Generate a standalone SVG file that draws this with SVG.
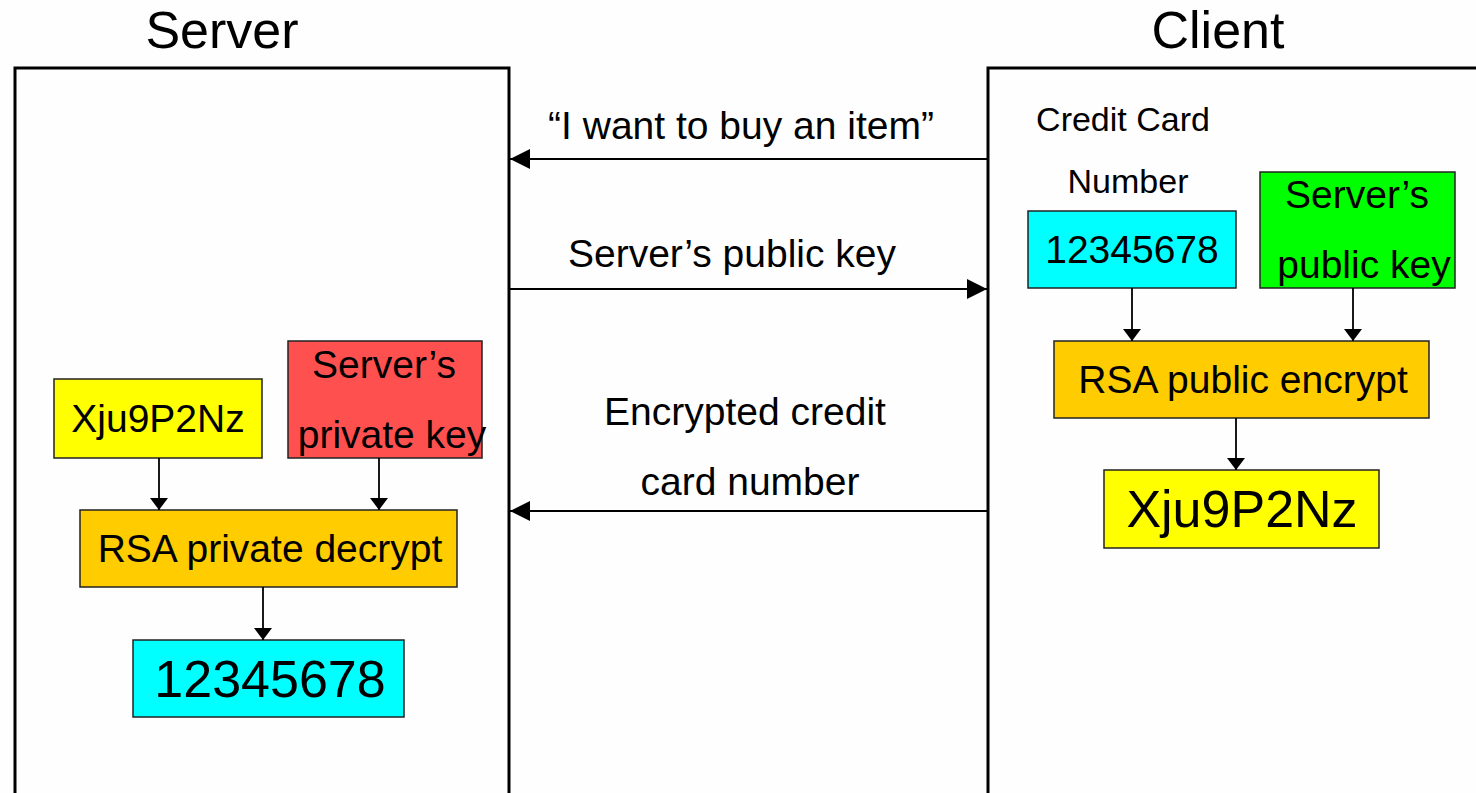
<svg xmlns="http://www.w3.org/2000/svg" width="1476" height="793" viewBox="0 0 1476 793">
  <style>
    text { font-family: "Liberation Sans", Arial, sans-serif; fill: #000; text-anchor: middle; }
    .title { font-size: 52px; }
    .lbl { font-size: 39px; }
    .big { font-size: 52px; }
    .small { font-size: 34px; }
    .frame { fill: none; stroke: #000; stroke-width: 3; }
    .node { stroke: #222; stroke-width: 1.5; }
    .msg { stroke: #000; stroke-width: 2; fill: none; }
    .flow { stroke: #000; stroke-width: 1.8; fill: none; }
  </style>
  <defs>
    <marker id="msgHead" viewBox="0 0 20 20" refX="20" refY="10" markerWidth="20" markerHeight="20" markerUnits="userSpaceOnUse" orient="auto">
      <path d="M0,0 L20,10 L0,20 Z" fill="#000"/>
    </marker>
    <marker id="flowHead" viewBox="0 0 12 18" refX="12" refY="9" markerWidth="12" markerHeight="18" markerUnits="userSpaceOnUse" orient="auto">
      <path d="M0,0 L12,9 L0,18 Z" fill="#000"/>
    </marker>
  </defs>

  <rect width="1476" height="793" fill="#fefefe"/>

  <!-- Titles -->
  <text class="title" x="222" y="48">Server</text>
  <text class="title" x="1218" y="48">Client</text>

  <!-- Party frames -->
  <g id="server">
    <path class="frame" d="M15,800 V68 H509 V800"/>
  </g>
  <g id="client">
    <path class="frame" d="M988,800 V68 H1480"/>
  </g>

  <!-- Server side nodes -->
  <g id="srv-cipher">
    <rect class="node" x="54" y="379" width="208" height="79" fill="#ffff00"/>
    <text class="lbl" x="158" y="432">Xju9P2Nz</text>
  </g>
  <g id="srv-private-key">
    <rect class="node" x="288" y="341" width="194" height="117" fill="#ff5050"/>
    <text class="lbl" x="384" y="378">Server’s</text>
    <text class="lbl" x="392" y="448">private key</text>
  </g>
  <g id="srv-decrypt">
    <rect class="node" x="80" y="510" width="377" height="77" fill="#ffcc00"/>
    <text class="lbl" x="270" y="562">RSA private decrypt</text>
  </g>
  <g id="srv-plain">
    <rect class="node" x="133" y="640" width="271" height="77" fill="#00ffff"/>
    <text class="big" x="270" y="697">12345678</text>
  </g>

  <!-- Client side nodes -->
  <g id="cli-caption">
    <text class="small" x="1123" y="131">Credit Card</text>
    <text class="small" x="1128" y="193">Number</text>
  </g>
  <g id="cli-plain">
    <rect class="node" x="1028" y="211" width="208" height="77" fill="#00ffff"/>
    <text class="lbl" x="1132" y="263">12345678</text>
  </g>
  <g id="cli-public-key">
    <rect class="node" x="1260" y="172" width="195" height="116" fill="#00ff00"/>
    <text class="lbl" x="1357" y="208">Server’s</text>
    <text class="lbl" x="1364" y="278">public key</text>
  </g>
  <g id="cli-encrypt">
    <rect class="node" x="1054" y="341" width="375" height="77" fill="#ffcc00"/>
    <text class="lbl" x="1243" y="393">RSA public encrypt</text>
  </g>
  <g id="cli-cipher">
    <rect class="node" x="1104" y="470" width="275" height="78" fill="#ffff00"/>
    <text class="big" x="1242" y="527">Xju9P2Nz</text>
  </g>

  <!-- Message labels -->
  <g id="msg-labels">
    <text class="lbl" x="741" y="139">“I want to buy an item”</text>
    <text class="lbl" x="732" y="267">Server’s public key</text>
    <text class="lbl" x="745" y="425">Encrypted credit</text>
    <text class="lbl" x="750" y="495">card number</text>
  </g>

  <!-- Connectors -->
  <g id="connectors">
    <line class="msg" x1="988" y1="159" x2="510" y2="159" marker-end="url(#msgHead)"/>
    <line class="msg" x1="509" y1="289" x2="987" y2="289" marker-end="url(#msgHead)"/>
    <line class="msg" x1="988" y1="511" x2="510" y2="511" marker-end="url(#msgHead)"/>

    <line class="flow" x1="159" y1="458" x2="159" y2="510" marker-end="url(#flowHead)"/>
    <line class="flow" x1="379" y1="458" x2="379" y2="510" marker-end="url(#flowHead)"/>
    <line class="flow" x1="263" y1="587" x2="263" y2="640" marker-end="url(#flowHead)"/>

    <line class="flow" x1="1132" y1="288" x2="1132" y2="341" marker-end="url(#flowHead)"/>
    <line class="flow" x1="1353" y1="288" x2="1353" y2="341" marker-end="url(#flowHead)"/>
    <line class="flow" x1="1236" y1="418" x2="1236" y2="470" marker-end="url(#flowHead)"/>
  </g>
</svg>
